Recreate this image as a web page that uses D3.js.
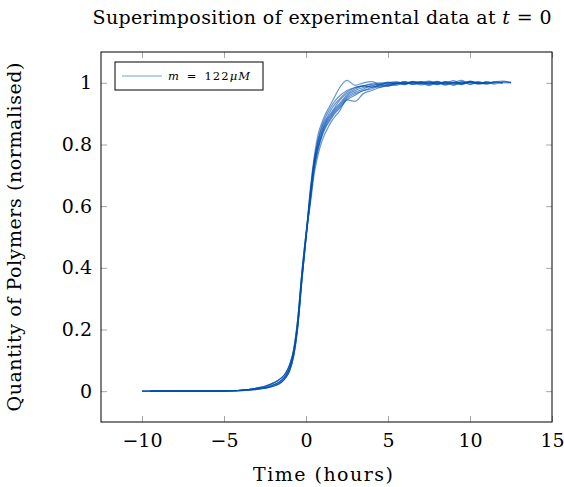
<!DOCTYPE html>
<html><head><meta charset="utf-8">
<script src="https://cdn.jsdelivr.net/npm/d3@7"></script>
<style>
body{margin:0;background:#fff}
text{font-family:"DejaVu Serif","Liberation Serif",serif;fill:#000}
</style>
</head><body><svg id="c" width="564" height="487"></svg>
<script>
// ---- data ----
const timeGrid = [-10,-9.5,-8,-6,-5,-4,-3,-2.5,-2,-1.5,-1.25,-1,-0.75,-0.5,-0.25,0,0.25,0.5,0.75,1,1.25,1.5,1.75,2,2.5,3,3.5,4,4.5,5,5.5,6,6.5,7,7.5,8,8.5,9,9.5,10,10.5,11,11.5,12,12.5];
const run1 = [0,0,0,0,0.001,0.003,0.008,0.012,0.020,0.035,0.050,0.075,0.125,0.220,0.370,0.500,0.650,0.760,0.835,0.875,0.905,0.930,0.955,0.980,1.008,0.992,1.000,1.004,0.996,1.000,1.000,0.995,1.005,0.998,1.003,0.995,1.004,1.000,0.996,1.006,0.998,1.002,1.000,1.004,1.002];
const run2 = [0,0,0,0,0.001,0.003,0.010,0.016,0.026,0.043,0.058,0.085,0.135,0.235,0.385,0.510,0.640,0.750,0.820,0.865,0.895,0.920,0.940,0.955,0.975,0.985,0.990,0.995,1.000,1.000,0.996,1.004,0.999,1.002,0.994,1.003,1.000,1.007,0.997,1.001,1.004,0.996,1.002,0.998,null];
const run3 = [0,0,0,0,0.001,0.002,0.006,0.010,0.016,0.029,0.043,0.066,0.115,0.210,0.360,0.495,0.635,0.745,0.815,0.860,0.885,0.910,0.930,0.945,0.970,0.985,0.990,0.997,0.993,1.002,0.998,1.003,0.995,1.000,1.006,0.997,1.001,0.992,1.004,1.000,0.997,1.003,0.999,null,null];
const run4 = [0,0,0,0,0.001,0.003,0.008,0.012,0.020,0.035,0.050,0.075,0.125,0.220,0.370,0.500,0.630,0.740,0.810,0.850,0.880,0.900,0.920,0.940,0.965,0.980,0.990,0.985,0.995,1.000,1.004,0.997,1.002,0.993,1.000,1.005,0.996,1.001,1.008,0.995,1.002,0.998,1.003,1.006,1.000];
const run5 = [null,0,0,0,0.001,0.003,0.010,0.016,0.026,0.043,0.058,0.085,0.135,0.235,0.385,0.510,0.625,0.735,0.800,0.845,0.875,0.895,0.915,0.930,0.960,0.975,0.985,0.990,0.995,0.990,1.000,0.996,1.003,0.999,0.991,1.002,0.998,1.000,0.994,1.003,0.999,null,null,null,null];
const run6 = [null,0,0,0,0.001,0.002,0.006,0.010,0.016,0.029,0.043,0.066,0.115,0.210,0.360,0.495,0.620,0.730,0.795,0.840,0.870,0.890,0.910,0.925,0.955,0.970,0.980,0.990,0.985,0.995,1.000,0.994,1.001,1.004,0.996,1.000,0.993,1.002,0.998,1.005,0.996,1.000,null,null,null];
const run7 = [null,0,0,0,0.001,0.003,0.008,0.012,0.020,0.035,0.050,0.075,0.125,0.220,0.370,0.500,0.615,0.725,0.790,0.835,0.865,0.885,0.905,0.920,0.950,0.965,0.975,0.985,0.990,0.995,0.992,1.001,0.997,1.003,0.998,0.994,1.004,0.999,1.002,0.995,1.001,0.997,1.003,1.000,null];
const run8 = [null,0,0,0,0.001,0.002,0.006,0.010,0.016,0.029,0.043,0.066,0.115,0.210,0.360,0.495,0.610,0.720,0.785,0.830,0.860,0.880,0.900,0.915,0.945,0.960,0.975,0.980,0.990,0.990,0.997,1.002,0.995,1.000,1.003,0.997,1.001,0.994,1.000,1.003,0.998,1.002,0.996,1.001,1.000];
const run9 = [null,0,0,0,0.001,0.003,0.010,0.016,0.026,0.043,0.058,0.085,0.135,0.235,0.385,0.510,0.600,0.705,0.770,0.815,0.845,0.870,0.890,0.905,0.945,0.940,0.965,0.975,0.985,0.990,0.996,0.999,1.003,0.996,1.000,1.002,0.993,1.001,0.997,1.002,0.999,1.001,null,null,null];
const runs = [run1,run2,run3,run4,run5,run6,run7,run8,run9];
const xTicks = [-10,-5,0,5,10,15];
const yTicks = [0,0.2,0.4,0.6,0.8,1];
const xDomain = [-12.5,15];
const yDomain = [-0.1,1.1];

// ---- layout ----
const svg = d3.select("#c");
const L=101, R=552, T=52, B=422;
const FS = 19;
const x = d3.scaleLinear().domain(xDomain).range([L,R]);
const y = d3.scaleLinear().domain(yDomain).range([B,T]);
const fmtX = d => d<0 ? "\u2212"+Math.abs(d) : String(d);
const fmtY = d => String(+d.toFixed(1));
const tickCol = "#a6a6a6", tl = 6;

function styleAxis(g){ g.select(".domain").remove(); g.selectAll(".tick line").attr("stroke",tickCol); }
function styleText(g){ g.selectAll("text").attr("font-size",FS).attr("font-family","DejaVu Serif").attr("fill","#000"); }
svg.append("g").attr("transform",`translate(0,${B})`)
  .call(d3.axisBottom(x).tickValues(xTicks).tickSizeInner(-tl).tickSizeOuter(0).tickPadding(12).tickFormat(fmtX))
  .call(styleAxis).call(styleText);
svg.append("g").attr("transform",`translate(0,${T})`)
  .call(d3.axisTop(x).tickValues(xTicks).tickSizeInner(-tl).tickSizeOuter(0).tickFormat(""))
  .call(styleAxis);
svg.append("g").attr("transform",`translate(${L},0)`)
  .call(d3.axisLeft(y).tickValues(yTicks).tickSizeInner(-tl).tickSizeOuter(0).tickPadding(9).tickFormat(fmtY))
  .call(styleAxis).call(styleText);
svg.append("g").attr("transform",`translate(${R},0)`)
  .call(d3.axisRight(y).tickValues(yTicks).tickSizeInner(-tl).tickSizeOuter(0).tickFormat(""))
  .call(styleAxis);

// curves
const line = d3.line().defined(d=>d[1]!==null).x(d=>x(d[0])).y(d=>y(d[1])).curve(d3.curveMonotoneX);
const lineCol = "#0050b0";
svg.append("g").selectAll("path").data(runs).join("path")
  .attr("d", r => line(r.map((v,i)=>[timeGrid[i],v])))
  .attr("fill","none").attr("stroke",lineCol).attr("stroke-opacity",0.6).attr("stroke-width",1.2);

// frame
svg.append("rect").attr("x",L).attr("y",T).attr("width",R-L).attr("height",B-T)
  .attr("fill","none").attr("stroke","#000").attr("stroke-width",1);

// legend
const lg = svg.append("g").attr("transform",`translate(${L+14},${T+10})`);
lg.append("rect").attr("width",148).attr("height",28).attr("fill","#fff").attr("stroke","#000");
lg.append("line").attr("x1",7).attr("x2",47).attr("y1",14).attr("y2",14).attr("stroke",lineCol).attr("stroke-opacity",0.55).attr("stroke-width",1.2);
const lt = lg.append("text").attr("x",53).attr("y",18).attr("font-size",11.5)
  .attr("textLength",82).attr("lengthAdjust","spacing");
lt.append("tspan").attr("font-style","italic").text("m");
lt.append("tspan").text("\u2002=\u2002122");
lt.append("tspan").attr("font-style","italic").text("\u03bcM");

// title
const tt = svg.append("text").attr("x",322).attr("y",24).attr("text-anchor","middle").attr("font-size",FS)
  .attr("textLength",459).attr("lengthAdjust","spacing");
tt.append("tspan").text("Superimposition of experimental data at ");
tt.append("tspan").attr("font-style","italic").text("t");
tt.append("tspan").text(" = 0");

// axis labels
svg.append("text").attr("x",323).attr("y",481).attr("text-anchor","middle").attr("font-size",FS)
  .attr("textLength",140).attr("lengthAdjust","spacing").text("Time (hours)");
svg.append("text").attr("transform",`translate(21,${(T+B)/2}) rotate(-90)`).attr("text-anchor","middle").attr("font-size",FS)
  .attr("textLength",349).attr("lengthAdjust","spacing").text("Quantity of Polymers (normalised)");
</script></body></html>
